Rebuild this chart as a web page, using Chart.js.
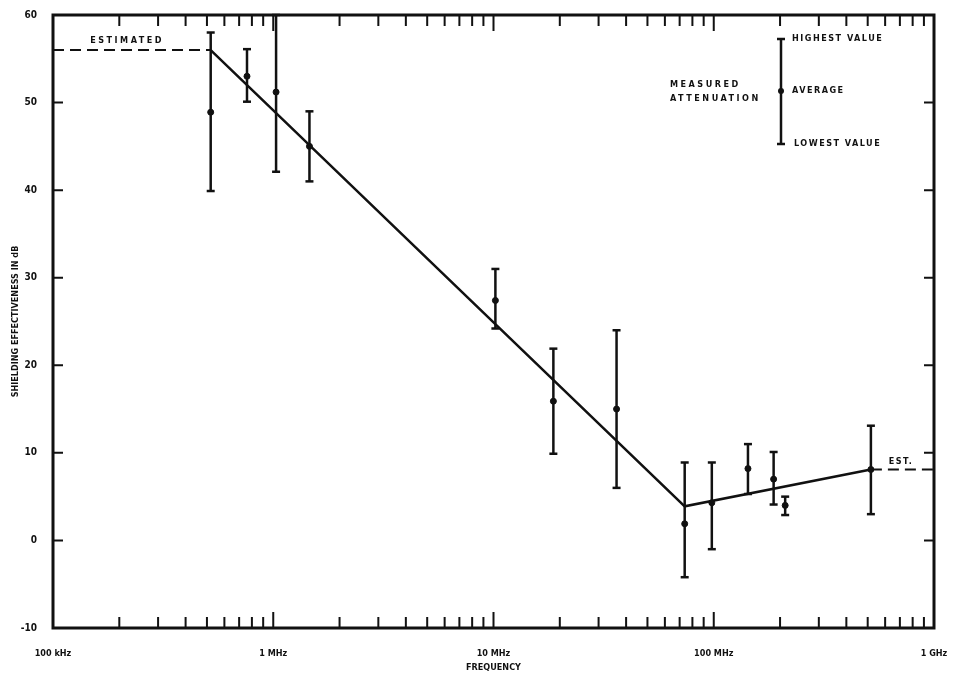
<!DOCTYPE html>
<html>
<head>
<meta charset="utf-8">
<script src="https://cdn.jsdelivr.net/npm/chart.js@4/dist/chart.umd.min.js"></script>
<style>
  body { margin: 0; background: #fff; }
  #box { width: 953px; height: 677px; }
</style>
</head>
<body>
<div id="box"><canvas id="myChart" width="953" height="677"></canvas></div>
<script>
// frequencies in MHz, values in dB
let freqMHz = [0.52, 0.76, 1.03, 1.46, 10.2, 18.7, 36.2, 73.8, 98, 143, 187, 211, 517];
let highVal = [58, 56.1, 60, 49, 31, 21.9, 24, 8.9, 8.9, 11, 10.1, 5, 13.1];
let avgVal  = [48.9, 53, 51.2, 45, 27.4, 15.9, 15, 1.9, 4.3, 8.2, 7, 4, 8.1];
let lowVal  = [39.9, 50.1, 42.1, 41, 24.2, 9.9, 6, -4.2, -1, 5.3, 4.1, 2.9, 3];

let fitFreq = [0.52, 73.8, 517];
let fitVal = [56, 3.9, 8.1];
let estLowFreq = [0.1, 0.52];
let estLowVal = [56, 56];
let estHighFreq = [517, 1000];
let estHighVal = [8.1, 8.1];

let decadeTicks = [0.1, 1, 10, 100, 1000];
let decadeLabels = ["100 kHz", "1 MHz", "10 MHz", "100 MHz", "1 GHz"];
let yTicks = [-10, 0, 10, 20, 30, 40, 50, 60];

const ink = "#111";
const fontName = '"DejaVu Sans Condensed", "DejaVu Sans", sans-serif';

function pts(xs, ys) {
    return xs.map((x, i) => ({ x: x, y: ys[i] }));
}

let datasets = [];

// error bars: one short line per measurement, caps drawn as points
freqMHz.forEach((f, i) => {
    datasets.push({
        data: [{ x: f, y: lowVal[i] }, { x: f, y: highVal[i] }],
        showLine: true,
        borderColor: ink,
        borderWidth: 2.5,
        pointStyle: 'line',
        pointRadius: 4,
        pointBorderWidth: 2.5,
        pointBorderColor: ink,
        clip: false
    });
});

datasets.push({
    data: pts(freqMHz, avgVal),
    pointRadius: 3,
    pointBackgroundColor: ink,
    pointBorderColor: ink,
    showLine: false
});

datasets.push({
    data: pts(fitFreq, fitVal),
    showLine: true,
    borderColor: ink,
    borderWidth: 2.5,
    pointRadius: 0
});

datasets.push({
    data: pts(estLowFreq, estLowVal),
    showLine: true,
    borderColor: ink,
    borderWidth: 2,
    borderDash: [11, 6],
    pointRadius: 0
});

datasets.push({
    data: pts(estHighFreq, estHighVal),
    showLine: true,
    borderColor: ink,
    borderWidth: 2,
    borderDash: [11, 6],
    pointRadius: 0
});

// frame, inward ticks, notes and the key
const decorations = {
    id: 'decorations',
    afterDatasetsDraw(chart) {
        const ctx = chart.ctx;
        const a = chart.chartArea;
        const xs = chart.scales.x;
        const ys = chart.scales.y;
        ctx.save();
        ctx.strokeStyle = ink;
        ctx.fillStyle = ink;

        ctx.lineWidth = 2;
        ctx.beginPath();
        yTicks.forEach(v => {
            const y = ys.getPixelForValue(v);
            ctx.moveTo(a.left, y); ctx.lineTo(a.left + 10, y);
            ctx.moveTo(a.right, y); ctx.lineTo(a.right - 10, y);
        });
        decadeTicks.forEach(d => {
            for (let m = 1; m <= 9; m++) {
                const v = d * m;
                if (v > 1000) break;
                const x = xs.getPixelForValue(v);
                const len = m === 1 ? 16 : 11;
                ctx.moveTo(x, a.bottom); ctx.lineTo(x, a.bottom - len);
                ctx.moveTo(x, a.top); ctx.lineTo(x, a.top + len);
            }
        });
        ctx.stroke();

        ctx.lineWidth = 3;
        ctx.strokeRect(a.left, a.top, a.right - a.left, a.bottom - a.top);

        ctx.font = 'bold 9px ' + fontName;
        ctx.textBaseline = 'middle';
        ctx.textAlign = 'center';
        ctx.letterSpacing = '2.5px';
        ctx.fillText("ESTIMATED", xs.getPixelForValue(0.217), ys.getPixelForValue(57.1));
        ctx.letterSpacing = '1.5px';
        ctx.fillText("EST.", xs.getPixelForValue(708), ys.getPixelForValue(9.0));

        // key
        const kx = 781, kt = 39, kb = 144, km = 91;
        ctx.lineWidth = 2.5;
        ctx.beginPath();
        ctx.moveTo(kx, kt); ctx.lineTo(kx, kb);
        ctx.moveTo(kx - 4, kt); ctx.lineTo(kx + 4, kt);
        ctx.moveTo(kx - 4, kb); ctx.lineTo(kx + 4, kb);
        ctx.stroke();
        ctx.beginPath();
        ctx.arc(kx, km, 3, 0, Math.PI * 2);
        ctx.fill();

        ctx.textAlign = 'left';
        ctx.letterSpacing = '1.5px';
        ctx.fillText("HIGHEST VALUE", 792, kt);
        ctx.fillText("AVERAGE", 792, km);
        ctx.fillText("LOWEST VALUE", 794, kb);
        ctx.letterSpacing = '2.5px';
        ctx.fillText("MEASURED", 670, 85);
        ctx.fillText("ATTENUATION", 670, 99);
        ctx.restore();
    }
};

const ctx = document.getElementById('myChart').getContext('2d');
const myChart = new Chart(ctx, {
    type: 'scatter',
    data: { datasets: datasets },
    plugins: [decorations],
    options: {
        responsive: false,
        animation: false,
        layout: { padding: { top: 15, right: 19, left: 0, bottom: 0 } },
        plugins: {
            legend: { display: false },
            tooltip: { enabled: false }
        },
        scales: {
            x: {
                type: 'logarithmic',
                min: 0.1,
                max: 1000,
                grid: { display: false },
                border: { display: false },
                afterBuildTicks: s => { s.ticks = decadeTicks.map(v => ({ value: v })); },
                afterFit: s => { s.height = 49; s.paddingLeft = 0; s.paddingRight = 0; },
                ticks: {
                    color: ink,
                    padding: 12,
                    maxRotation: 0,
                    autoSkip: false,
                    font: { family: fontName, size: 9, weight: 'bold' },
                    callback: (v) => decadeLabels[decadeTicks.indexOf(v)]
                },
                title: {
                    display: true,
                    text: "FREQUENCY",
                    color: ink,
                    padding: { top: 0, bottom: 4 },
                    font: { family: fontName, size: 9, weight: 'bold' }
                }
            },
            y: {
                min: -10,
                max: 60,
                grid: { display: false },
                border: { display: false },
                afterBuildTicks: s => { s.ticks = yTicks.map(v => ({ value: v })); },
                afterFit: s => { s.width = 53; s.paddingTop = 0; s.paddingBottom = 0; },
                ticks: {
                    color: ink,
                    padding: 8,
                    font: { family: fontName, size: 10, weight: 'bold' }
                },
                title: {
                    display: true,
                    text: "SHIELDING EFFECTIVENESS IN dB",
                    color: ink,
                    padding: { top: 10, bottom: 0 },
                    font: { family: fontName, size: 9, weight: 'bold' }
                }
            }
        }
    }
});
</script>
</body>
</html>
